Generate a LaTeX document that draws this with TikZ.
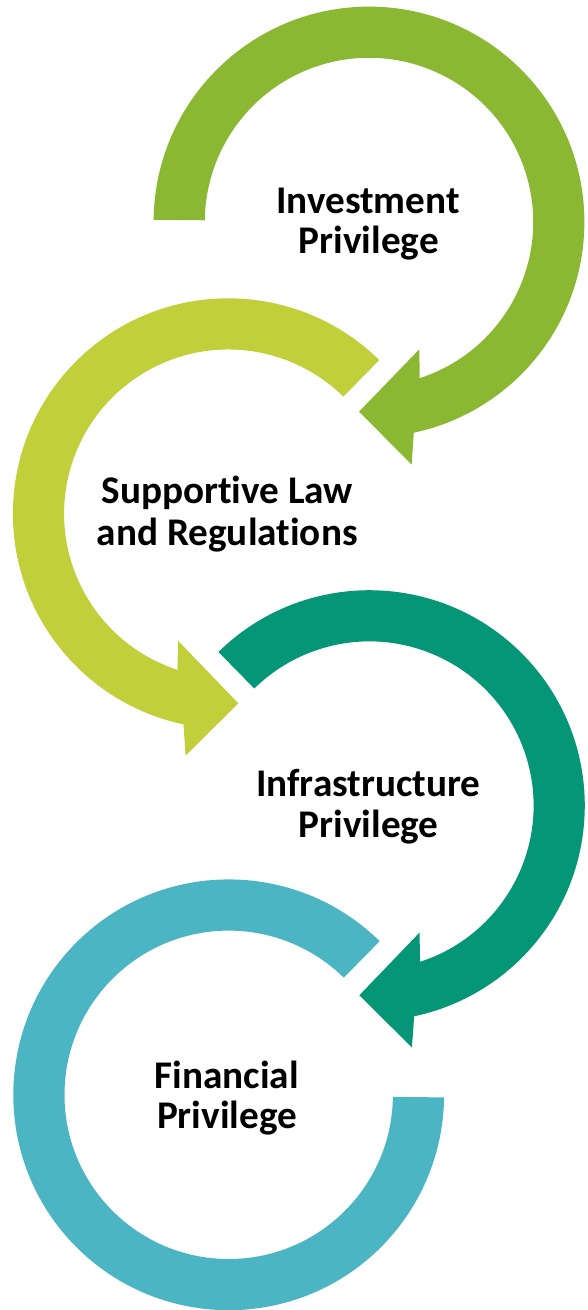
\documentclass[tikz,border=0pt]{standalone}
\usepackage{fontspec}
\setmainfont{Carlito}[Ligatures={NoCommon,NoContextual}]
\usetikzlibrary{calc}
\definecolor{cgreen}{HTML}{8AB833}
\definecolor{clime}{HTML}{C0CF3A}
\definecolor{cteal}{HTML}{059678}
\definecolor{cblue}{HTML}{4BB5C4}
\begin{document}
\begin{tikzpicture}[x=1pt,y=1pt,
  lbl/.style={font=\fontsize{39.2}{40}\selectfont\bfseries, text=black, inner sep=0pt, anchor=base}]
\useasboundingbox (0,0) rectangle (587,-1310);
\def\arcRo{215.4pt}
\def\arcRi{164.2pt}
\coordinate (c1) at (369,-222);
\coordinate (c2) at (228.3,-513.7);
\coordinate (c3) at (369.4,-805.6);
\coordinate (c4) at (228.7,-1094.8);
% arrow 1 (clockwise)
\fill[cgreen] ($(c1)+(179.4:\arcRo)$) arc[start angle=179.4, end angle=-78, radius=\arcRo]
  -- ($(c1)+(42.7,-242.5)$) -- ($(c1)+(-10,-189.7)$) -- ($(c1)+(50.3,-127.3)$)
  -- ($(c1)+(-72:\arcRi)$) arc[start angle=-72, end angle=179.4, radius=\arcRi] -- cycle;
% arrow 2 (counter-clockwise)
\fill[clime] ($(c2)+(45.5:\arcRo)$) arc[start angle=45.5, end angle=258, radius=\arcRo]
  -- ($(c2)+(-42.7,-242)$) -- ($(c2)+(10,-189.6)$) -- ($(c2)+(-50.3,-127)$)
  -- ($(c2)+(252:\arcRi)$) arc[start angle=252, end angle=45.5, radius=\arcRi] -- cycle;
% arrow 3 (clockwise)
\fill[cteal] ($(c3)+(134.5:\arcRo)$) arc[start angle=134.5, end angle=-78, radius=\arcRo]
  -- ($(c3)+(42.5,-242)$) -- ($(c3)+(-10,-189.6)$) -- ($(c3)+(50.1,-127)$)
  -- ($(c3)+(-72:\arcRi)$) arc[start angle=-72, end angle=134.5, radius=\arcRi] -- cycle;
% ring 4
\fill[cblue] ($(c4)+(45.5:\arcRo)$) arc[start angle=45.5, end angle=359.3, radius=\arcRo]
  -- ($(c4)+(359.3:\arcRi)$) arc[start angle=359.3, end angle=45.5, radius=\arcRi] -- cycle;
% labels
\node[lbl] (t1a) at (368,-213.3) {Investment};
\node[lbl] (t1b) at (368.8,-253.3) {Privilege};
\node[lbl] (t2a) at (227.2,-503.3) {Supportive Law};
\node[lbl] (t2b) at (227.2,-545) {and Regulations};
\node[lbl] (t3a) at (368.3,-796.7) {Infrastructure};
\node[lbl] (t3b) at (368.7,-837.3) {Privilege};
\node[lbl] (t4a) at (226.7,-1088.3) {Financial};
\node[lbl] (t4b) at (227,-1128.3) {Privilege};
\end{tikzpicture}
\end{document}
